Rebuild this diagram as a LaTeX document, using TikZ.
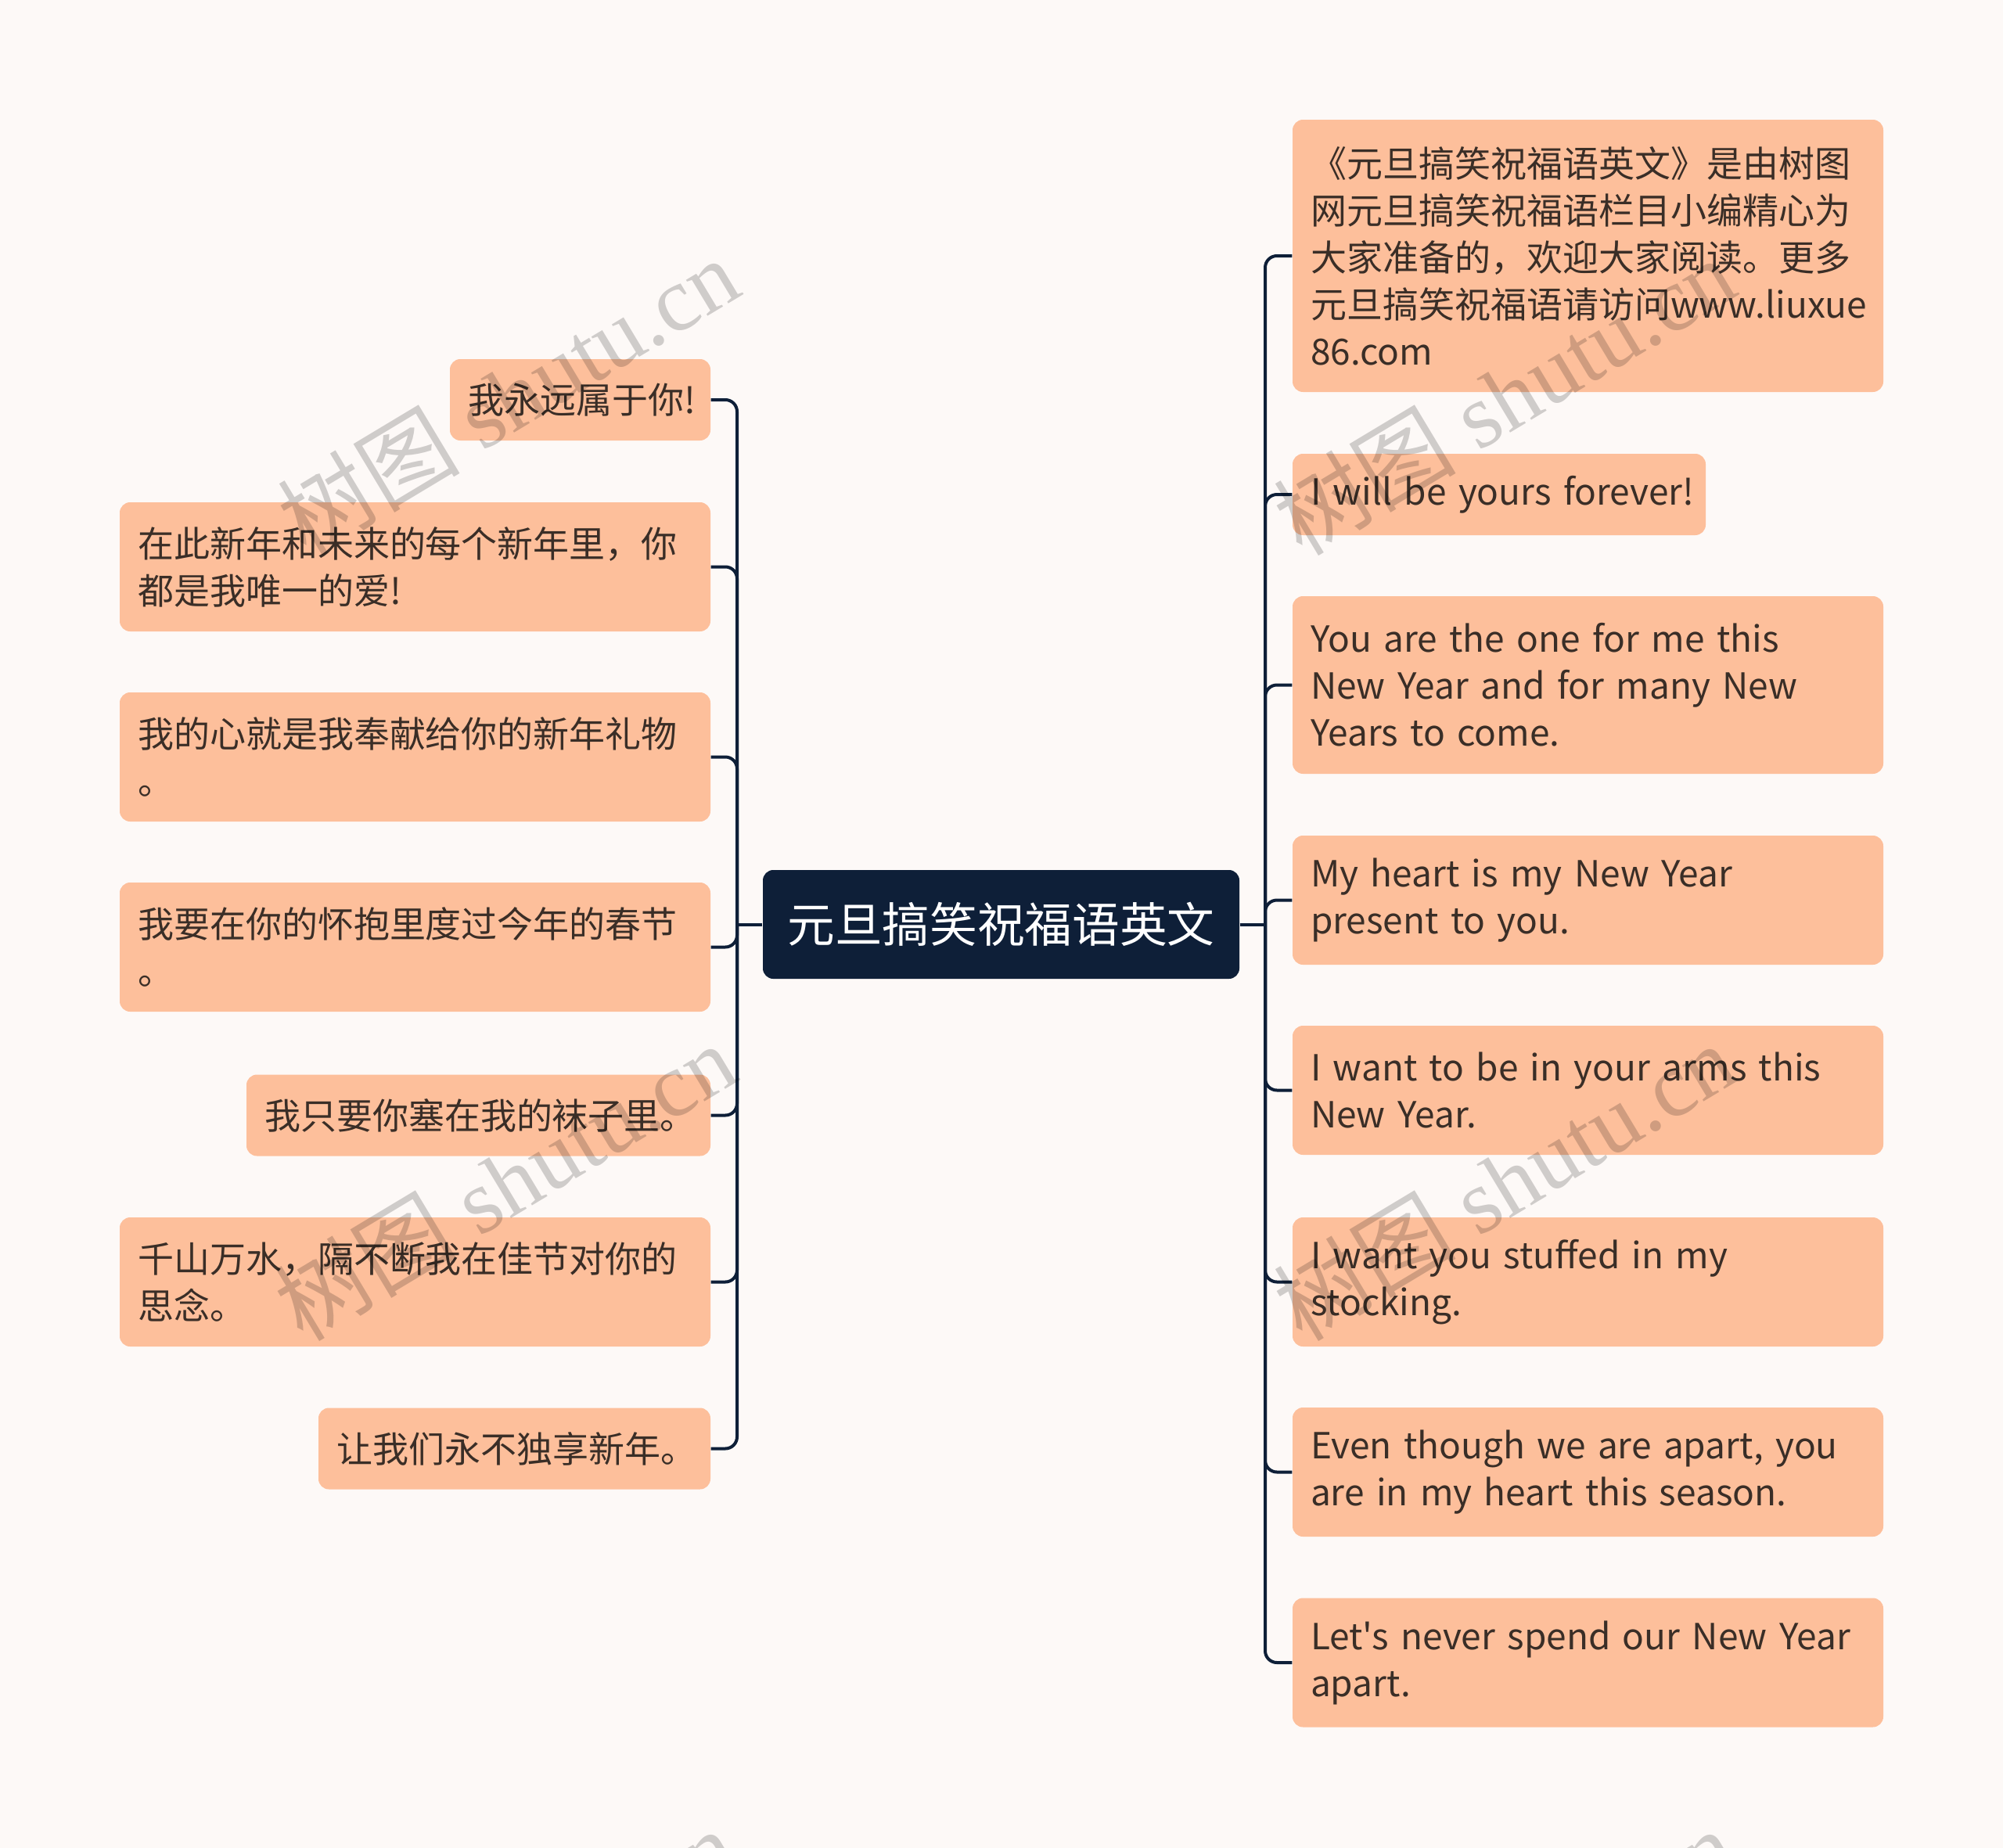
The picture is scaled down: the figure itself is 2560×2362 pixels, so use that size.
\documentclass[tikz,border=0pt]{standalone}
\usepackage{fontspec}
\setmainfont{Noto Sans CJK SC}
\newfontfamily\leaffont{Noto Sans CJK SC}
\newfontfamily\wmcjk{Noto Sans CJK SC}
\newfontfamily\wmlat{Liberation Serif}
\definecolor{bgc}{HTML}{FDF9F7}
\definecolor{peach}{HTML}{FDBF9B}
\definecolor{navy}{HTML}{0E1F38}
\definecolor{txt}{HTML}{3A2E27}
\begin{document}
\begin{tikzpicture}[x=0.3pt,y=-0.3pt,
  leaf/.style={rectangle, rounded corners=4pt, fill=peach, text=txt,
    inner xsep=6.9pt, inner ysep=0pt, align=left,
    font=\leaffont\fontsize{13.8pt}{18pt}\selectfont},
  rootbox/.style={rectangle, rounded corners=4pt, fill=navy, text=white,
    minimum width=182.7pt, minimum height=41.7pt, inner sep=0pt,
    font=\leaffont\fontsize{18.2pt}{22pt}\selectfont},
  conn/.style={draw=navy, line width=1.2pt, rounded corners=4.5pt},
  wm/.style={text=black, text opacity=0.18, font=\fontsize{35pt}{38pt}\wmlat, inner sep=0pt}
]
\useasboundingbox (0,0) rectangle (2560,2362);
\fill[bgc] (0,0) rectangle (2560,2362);

\node[rootbox] (root) at (1279.5,1181.5) {元旦搞笑祝福语英文};
\coordinate (lj) at (942,1181.5);
\coordinate (rj) at (1617,1181.5);

% right side
\node[leaf, text width=212.7pt, minimum height=104.4pt] (r1) at (2029.5,327)
  {《元旦搞笑祝福语英文》是由树图\\网元旦搞笑祝福语栏目小编精心为\\大家准备的，欢迎大家阅读。更多\\元旦搞笑祝福语请访问www.liuxue\\86.com};
\node[leaf, text width=144.6pt, minimum height=31.2pt] (r2) at (1916,632)
  {\mbox{I will be yours forever!}};
\node[leaf, text width=212.7pt, minimum height=68.1pt] (r3) at (2029.5,875.5)
  {You are the one for me this\\New Year and for many New\\Years to come.};
\node[leaf, text width=212.7pt, minimum height=49.5pt] (r4) at (2029.5,1150.5)
  {My heart is my New Year\\present to you.};
\node[leaf, text width=212.7pt, minimum height=49.5pt] (r5) at (2029.5,1393.5)
  {I want to be in your arms this\\New Year.};
\node[leaf, text width=212.7pt, minimum height=49.5pt] (r6) at (2029.5,1638.5)
  {I want you stuffed in my\\stocking.};
\node[leaf, text width=212.7pt, minimum height=49.5pt] (r7) at (2029.5,1881.5)
  {Even though we are apart, you\\are in my heart this season.};
\node[leaf, text width=212.7pt, minimum height=49.5pt] (r8) at (2029.5,2125)
  {Let's never spend our New Year\\apart.};

% left side
\node[leaf, text width=86.1pt, minimum height=31.2pt] (l1) at (741.5,511)
  {我永远属于你!};
\node[leaf, text width=212.7pt, minimum height=49.5pt] (l2) at (530.5,724.5)
  {在此新年和未来的每个新年里，你\\都是我唯一的爱!};
\node[leaf, text width=212.7pt, minimum height=49.5pt] (l3) at (530.5,967.5)
  {我的心就是我奉献给你的新年礼物\\。};
\node[leaf, text width=212.7pt, minimum height=49.5pt] (l4) at (530.5,1210.5)
  {我要在你的怀抱里度过今年的春节\\。};
\node[leaf, text width=164.1pt, minimum height=31.2pt] (l5) at (611.5,1425.5)
  {我只要你塞在我的袜子里。};
\node[leaf, text width=212.7pt, minimum height=49.5pt] (l6) at (530.5,1638.5)
  {千山万水，隔不断我在佳节对你的\\思念。};
\node[leaf, text width=136.5pt, minimum height=31.2pt] (l7) at (657.5,1851.5)
  {让我们永不独享新年。};

% connectors
\draw[conn] (root.west) -- (lj);
\draw[conn] (root.east) -- (rj);
\foreach \n in {l1,l2,l3,l4,l5,l6,l7} \draw[conn] (lj) |- (\n.east);
\foreach \n in {r1,r2,r3,r4,r5,r6,r7,r8} \draw[conn] (rj) |- (\n.west);

% watermarks
\begin{scope}
\clip (0,0) rectangle (2560,2362);
\node[wm, rotate=31] (w1) at (649,506) {{\wmcjk 树图} shutu.cn};
\node[wm, rotate=31] (w2) at (645,1510) {{\wmcjk 树图} shutu.cn};
\node[wm, rotate=31] (w3) at (1922,506) {{\wmcjk 树图} shutu.cn};
\node[wm, rotate=31] (w4) at (1922,1510) {{\wmcjk 树图} shutu.cn};
\node[wm, rotate=31] (w5) at (645,2514) {{\wmcjk 树图} shutu.cn};
\node[wm, rotate=31] (w6) at (1922,2514) {{\wmcjk 树图} shutu.cn};
\end{scope}
\end{tikzpicture}
\end{document}
